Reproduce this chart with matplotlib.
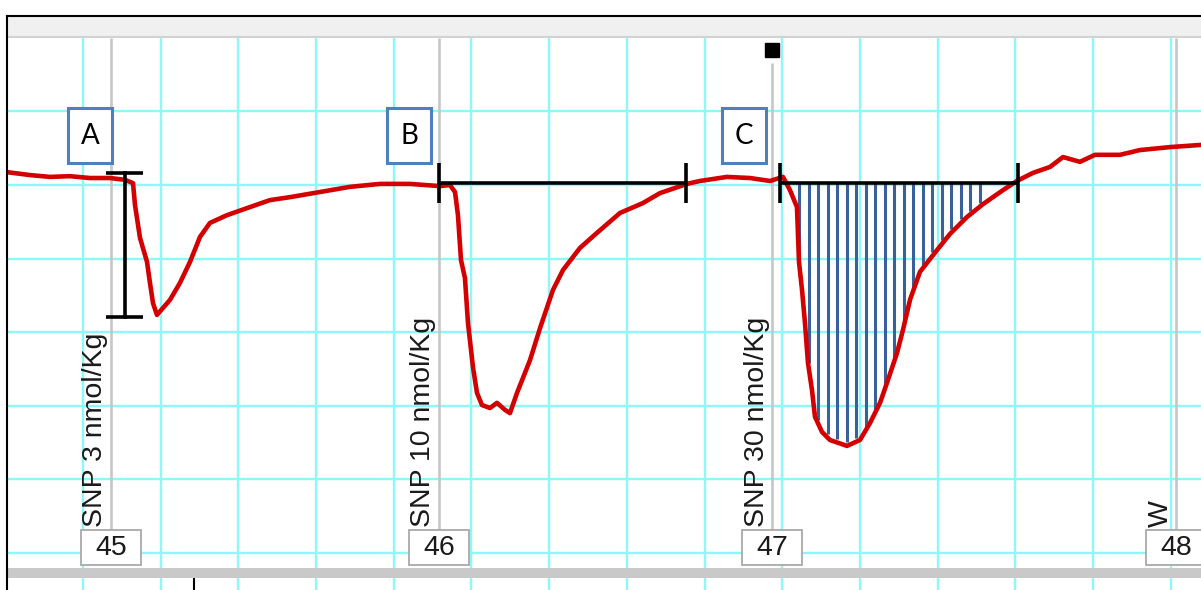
import numpy as np
import matplotlib.pyplot as plt
from matplotlib.patches import Rectangle
from matplotlib.lines import Line2D

# blood pressure trace (time in min, pressure in mmHg)
time = [-0.978, -0.682, -0.425, -0.167, 0.090, 0.347, 0.541, 0.644, 0.669, 0.734,
        0.824, 0.862, 0.901, 0.952, 1.030, 1.120, 1.248, 1.377, 1.506, 1.634,
        1.853, 2.149, 2.407, 2.664, 3.050, 3.436, 3.822, 4.208, 4.595, 4.723,
        4.788, 4.826, 4.865, 4.916, 4.955, 5.019, 5.071, 5.135, 5.238, 5.328,
        5.431, 5.495, 5.586, 5.663, 5.753, 5.882, 6.049, 6.178, 6.396, 6.615,
        6.911, 7.207, 7.426, 7.773, 7.941, 8.288, 8.584, 8.842, 9.009, 9.099,
        9.189, 9.215, 9.254, 9.292, 9.331, 9.382, 9.421, 9.511, 9.614, 9.833,
        10.000, 10.129, 10.258, 10.347, 10.476, 10.553, 10.644, 10.772, 10.991, 11.158,
        11.377, 11.583, 11.840, 12.020, 12.227, 12.445, 12.613, 12.831, 13.024, 13.346,
        13.604, 13.990, 14.389]
pressure = [143.5, 142.7, 142.2, 142.4, 141.9, 141.9, 141.4, 140.5, 134.6, 125.6,
            119.1, 113.4, 107.9, 104.7, 106.6, 108.8, 113.4, 119.1, 125.9, 129.7,
            131.8, 134.0, 135.9, 136.7, 138.1, 139.5, 140.3, 140.3, 139.7, 140.0,
            138.1, 131.8, 119.6, 114.7, 102.5, 90.5, 83.5, 80.2, 79.4, 80.8,
            78.9, 78.0, 83.5, 87.6, 92.4, 101.1, 111.5, 116.9, 122.9, 127.0,
            132.4, 135.1, 137.8, 140.3, 141.1, 142.2, 141.9, 141.1, 142.2, 138.6,
            134.0, 119.1, 111.5, 102.5, 91.6, 84.3, 77.0, 72.9, 70.7, 69.1,
            70.7, 75.3, 80.8, 86.2, 94.3, 100.6, 108.8, 116.4, 122.3, 126.7,
            131.3, 134.8, 138.6, 141.1, 143.3, 144.9, 147.6, 146.3, 148.2, 148.2,
            149.5, 150.3, 150.9]

events = [0.36, 4.58, 8.87, 14.07]
eventNumbers = ['45', '46', '47', '48']
eventComments = ['SNP 3 nmol/Kg', 'SNP 10 nmol/Kg', 'SNP 30 nmol/Kg', 'W']
selectedEvent = 2

boxLetters = ['A', 'B', 'C']
boxTimes = [0.09, 4.20, 8.51]

# measurements drawn on top of the trace
ampTime = 0.54
ampRange = [143.3, 104.2]
durStart = [4.58, 8.97]
durEnd = [7.76, 12.03]
durLevel = [140.5, 140.5]
areaStart, areaEnd = 9.215, 11.544

W, H = 1201, 590
cyan = '#8ef7f7'
red = '#d40000'
blue = '#38609a'


def px_rect(x0, y0, x1, y1):
    return [x0 / W, 1 - y1 / H, (x1 - x0) / W, (y1 - y0) / H]


fig = plt.figure(figsize=(W / 100, H / 100), dpi=100)

ax = fig.add_axes(px_rect(7, 38, 1201, 568))
ax.set_xlim(-0.978, 14.389)
ax.set_ylim(35.92, 179.95)
ax.set_xticks(range(0, 15))
ax.set_yticks(range(40, 180, 20))
ax.grid(True, color=cyan, lw=1.7)
ax.set_axisbelow(True)
ax.tick_params(length=0, labelbottom=False, labelleft=False)
for s in ax.spines.values():
    s.set_visible(False)

# event markers with their comments
boxTop = 46.25
for i, t in enumerate(events):
    top = 173.2 if i == selectedEvent else 179.95
    ax.vlines(t, boxTop, top, color='#c6c6c6', lw=1.9, zorder=2)
    ax.add_patch(Rectangle((t - 0.386, 36.74), 0.772, boxTop - 36.74, fc='white',
                           ec='#a9a9a9', lw=1.3, zorder=4))
    ax.text(t, 41.3, eventNumbers[i], ha='center', va='center', fontsize=20.5,
            family='Liberation Sans', color='#1a1a1a', zorder=5)
    ax.annotate(eventComments[i], xy=(t, boxTop), xytext=(-2.5, 2.5),
                textcoords='offset pixels', rotation=90, rotation_mode='anchor',
                ha='left', va='bottom', fontsize=20.5, family='Liberation Sans',
                color='#1a1a1a', zorder=5)
ax.plot(events[selectedEvent], 176.7, 's', ms=10, color='black', clip_on=False, zorder=6)

# hatched area under the third response
level = durLevel[1]
hatchT = np.linspace(areaStart, areaEnd, 20)
ax.vlines(hatchT, np.interp(hatchT, time, pressure) + 1.0, level, color=blue, lw=2.2, zorder=3)

ax.plot(time, pressure, color=red, lw=3.3, solid_joinstyle='round', zorder=4)

# amplitude bar
ax.plot([ampTime, ampTime], ampRange, color='black', lw=2.6, zorder=5)
ax.hlines(ampRange, ampTime - 0.238, ampTime + 0.238, color='black', lw=2.6, zorder=5)

# duration bars
ax.hlines(durLevel, durStart, durEnd, color='black', lw=2.6, zorder=5)
ax.vlines(durStart + durEnd, np.array(durLevel * 2) - 5.4, np.array(durLevel * 2) + 5.4,
          color='black', lw=2.6, zorder=5)

# letter boxes
for letter, t in zip(boxLetters, boxTimes):
    ax.add_patch(Rectangle((t - 0.283, 145.98), 0.566, 14.95, fc='white', ec='#4f7fbe',
                           lw=2.2, zorder=5))
    ax.text(t, 153.45, letter, ha='center', va='center', fontsize=20, family='Lato',
            color='black', zorder=6)

# lower strip under the scroll bar
axb = fig.add_axes(px_rect(7, 578, 1201, 590))
axb.set_xlim(ax.get_xlim())
axb.set_xticks(range(0, 15))
axb.set_yticks([])
axb.grid(True, axis='x', color=cyan, lw=1.7)
axb.set_xticks([1.43], minor=True)
axb.tick_params(which='major', length=0, labelbottom=False)
axb.tick_params(which='minor', direction='in', length=9, width=1.5, color='black',
                top=True, bottom=False, labelbottom=False)
for s in axb.spines.values():
    s.set_visible(False)

# window chrome
fig.add_artist(Rectangle((7 / W, 1 - 37 / H), 1, 21 / H, transform=fig.transFigure,
                         fc='#f0f0f0', ec='none'))
fig.add_artist(Line2D([7 / W, 1], [1 - 36.5 / H] * 2, color='#d2d2d2', lw=1.5))
fig.add_artist(Rectangle((7 / W, 1 - 578 / H), 1, 10 / H, transform=fig.transFigure,
                         fc='#c9c9c9', ec='none'))
fig.add_artist(Line2D([7 / W, 1], [1 - 16 / H] * 2, color='black', lw=1.5))
fig.add_artist(Line2D([7 / W, 7 / W], [0, 1 - 16 / H], color='black', lw=1.5))

fig.savefig('out.png', dpi=100)
